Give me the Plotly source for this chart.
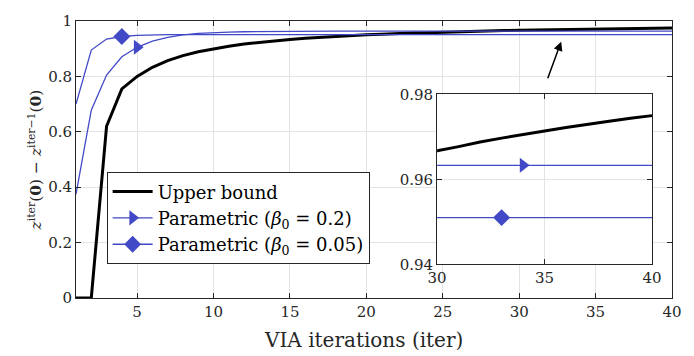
import plotly.graph_objects as go

iters = list(range(1, 41))
upper_bound = [0, 0, 0.62, 0.755, 0.80, 0.833, 0.857, 0.875, 0.889, 0.90,
               0.909, 0.917, 0.923, 0.929, 0.933, 0.9375, 0.941, 0.944, 0.947, 0.95,
               0.952, 0.955, 0.957, 0.958, 0.96, 0.9615, 0.963, 0.964, 0.9655, 0.9667,
               0.9677, 0.9688, 0.9697, 0.9706, 0.9714, 0.9722, 0.973, 0.9737, 0.9744, 0.975]
param_b02 = [0.375, 0.678, 0.805, 0.871, 0.905, 0.927, 0.941, 0.950, 0.955, 0.958,
             0.960, 0.9612, 0.962, 0.9625, 0.9628, 0.963, 0.9632, 0.9633, 0.9633, 0.9633,
             0.9633, 0.9633, 0.9633, 0.9633, 0.9633, 0.9633, 0.9633, 0.9633, 0.9633, 0.9633,
             0.9633, 0.9633, 0.9633, 0.9633, 0.9633, 0.9633, 0.9633, 0.9633, 0.9633, 0.9633]
param_b005 = [0.70, 0.895, 0.935, 0.944, 0.948, 0.950, 0.9505, 0.951, 0.951, 0.951,
              0.951, 0.951, 0.951, 0.951, 0.951, 0.951, 0.951, 0.951, 0.951, 0.951,
              0.951, 0.951, 0.951, 0.951, 0.951, 0.951, 0.951, 0.951, 0.951, 0.951,
              0.951, 0.951, 0.951, 0.951, 0.951, 0.951, 0.951, 0.951, 0.951, 0.951]
marker_iters_b02 = [5, 34]
marker_iters_b005 = [4, 33]

names = ["Upper bound", "Parametric (<i>β</i><sub>0</sub> = 0.2)", "Parametric (<i>β</i><sub>0</sub> = 0.05)"]
x_title = "VIA iterations (iter)"
y_title = "<i>z</i><sup>iter</sup>(<b>0</b>) − <i>z</i><sup>iter−1</sup>(<b>0</b>)"
x_ticks = [5, 10, 15, 20, 25, 30, 35, 40]
y_ticks = [0, 0.2, 0.4, 0.6, 0.8, 1]
y_ticklabels = ["0", "0.2", "0.4", "0.6", "0.8", "1"]
inset_x_ticks = [30, 35, 40]
inset_y_ticks = [0.94, 0.96, 0.98]
inset_y_ticklabels = ["0.94", "0.96", "0.98"]

BLUE = "#4249c6"
FONT = "DejaVu Serif"

fig = go.Figure()

for xa, ya, mi in [("x", "y", 0), ("x2", "y2", 1)]:
    fig.add_trace(go.Scatter(x=iters, y=upper_bound, mode="lines", xaxis=xa, yaxis=ya,
                             line=dict(color="black", width=3), showlegend=False, hoverinfo="skip"))
    fig.add_trace(go.Scatter(x=iters, y=param_b02, mode="lines", xaxis=xa, yaxis=ya,
                             line=dict(color=BLUE, width=1.3), showlegend=False, hoverinfo="skip"))
    fig.add_trace(go.Scatter(x=iters, y=param_b005, mode="lines", xaxis=xa, yaxis=ya,
                             line=dict(color=BLUE, width=1.3), showlegend=False, hoverinfo="skip"))
    m2 = marker_iters_b02[mi]
    m5 = marker_iters_b005[mi]
    fig.add_trace(go.Scatter(x=[m2], y=[param_b02[m2 - 1]], mode="markers", xaxis=xa, yaxis=ya,
                             marker=dict(symbol="triangle-right", size=13, color=BLUE),
                             showlegend=False, hoverinfo="skip"))
    fig.add_trace(go.Scatter(x=[m5], y=[param_b005[m5 - 1]], mode="markers", xaxis=xa, yaxis=ya,
                             marker=dict(symbol="diamond", size=13, color=BLUE),
                             showlegend=False, hoverinfo="skip"))

# legend-only traces
fig.add_trace(go.Scatter(x=[None], y=[None], mode="lines", name=names[0],
                         line=dict(color="black", width=3)))
fig.add_trace(go.Scatter(x=[None], y=[None], mode="lines+markers", name=names[1],
                         line=dict(color=BLUE, width=1.3),
                         marker=dict(symbol="triangle-right", size=13, color=BLUE)))
fig.add_trace(go.Scatter(x=[None], y=[None], mode="lines+markers", name=names[2],
                         line=dict(color=BLUE, width=1.3),
                         marker=dict(symbol="diamond", size=13, color=BLUE)))

axis_common = dict(showline=True, linecolor="#262626", linewidth=1, mirror="ticks",
                   ticks="inside", ticklen=5, tickcolor="#262626", showgrid=True,
                   gridcolor="#e3e3e3", gridwidth=1, zeroline=False,
                   tickfont=dict(family=FONT, size=15, color="#262626"))

fig.update_layout(
    width=694, height=356,
    margin=dict(l=76, r=21, t=16, b=58),
    paper_bgcolor="white", plot_bgcolor="white",
    font=dict(family=FONT, color="#262626"),
    xaxis=dict(range=[1, 40], tickvals=x_ticks, domain=[0, 1], anchor="y", **axis_common),
    yaxis=dict(range=[0, 1], tickvals=y_ticks, ticktext=y_ticklabels, domain=[0, 1], anchor="x",
               title=dict(text=y_title, font=dict(family=FONT, size=15.5), standoff=2),
               **axis_common),
    xaxis2=dict(range=[30, 40], tickvals=inset_x_ticks, domain=[0.6059, 0.9665], anchor="y2",
                **axis_common),
    yaxis2=dict(range=[0.94, 0.98], tickvals=inset_y_ticks, ticktext=inset_y_ticklabels,
                domain=[0.1216, 0.7351], anchor="x2", **axis_common),
    legend=dict(x=0.0514, y=0.4539, xanchor="left", yanchor="top",
                bgcolor="white", bordercolor="#262626", borderwidth=1,
                font=dict(family=FONT, size=18, color="black"),
                itemwidth=40, tracegroupgap=0),
    showlegend=True,
    annotations=[
        dict(x=32.75, y=0.9255, xref="x", yref="y", showarrow=True,
             ax=-14, ay=38, arrowhead=2, arrowsize=1.2, arrowwidth=1.5,
             arrowcolor="black", text=""),
        dict(x=0.482, y=-0.1525, xref="paper", yref="paper", xanchor="center", yanchor="middle",
             showarrow=False, text=x_title, font=dict(family=FONT, size=20, color="#262626")),
    ],
)

fig.write_html("out.html", config={"displayModeBar": False},
               post_script="document.body.style.margin='0';document.body.style.padding='0';")
